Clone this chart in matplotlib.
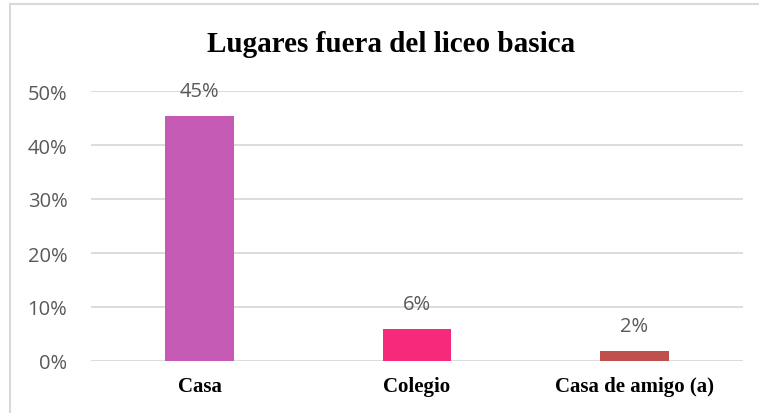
import matplotlib
matplotlib.use("Agg")
import matplotlib.pyplot as plt
from matplotlib.lines import Line2D

categories = ["Casa", "Colegio", "Casa de amigo (a)"]
values = [0.454, 0.059, 0.019]
labels = ["45%", "6%", "2%"]
colors = ["#C45AB3", "#F7297A", "#C0504D"]
yticks = [0, 0.1, 0.2, 0.3, 0.4, 0.5]
ytick_labels = ["0%", "10%", "20%", "30%", "40%", "50%"]
title = "Lugares fuera del liceo basica"

W, H = 759, 414
fig = plt.figure(figsize=(W / 100, H / 100), dpi=100)
ax = fig.add_axes([91 / W, 1 - 362 / H, (743 - 91) / W, (362 - 92) / H])

x = list(range(len(categories)))
bars = ax.bar(x, values, width=0.315, color=colors, zorder=3)
ax.set_xlim(-0.5, len(categories) - 0.5)
ax.set_ylim(0, 0.5)
ax.set_yticks(yticks)
ax.set_yticklabels(ytick_labels, fontsize=14.5, color="#595959", family="Open Sans")
ax.set_xticks(x)
ax.set_xticklabels(categories, fontsize=15, fontweight="bold", family="Liberation Serif", color="black")
ax.tick_params(axis="y", length=0, pad=17)
ax.tick_params(axis="x", length=0, pad=11)
ax.grid(axis="y", color="#D9D9D9", linewidth=1.3, zorder=0)
for s in ax.spines.values():
    s.set_visible(False)

for xi, v, lab in zip(x, values, labels):
    ax.annotate(lab, (xi, v), xytext=(0, 25), textcoords="offset pixels",
                ha="center", va="center", fontsize=14.5, color="#595959", family="Open Sans")

fig.text(391 / W, 1 - 52 / H, title, ha="center", va="baseline", fontsize=21,
         fontweight="bold", family="Liberation Serif")

# chart border
fig.add_artist(Line2D([10 / W, 10 / W], [0, 1 - 5 / H], transform=fig.transFigure, color="#D9D9D9", lw=1.5))
fig.add_artist(Line2D([10 / W, 1], [1 - 5 / H, 1 - 5 / H], transform=fig.transFigure, color="#D9D9D9", lw=1.5))

fig.savefig("out.png", dpi=100)
